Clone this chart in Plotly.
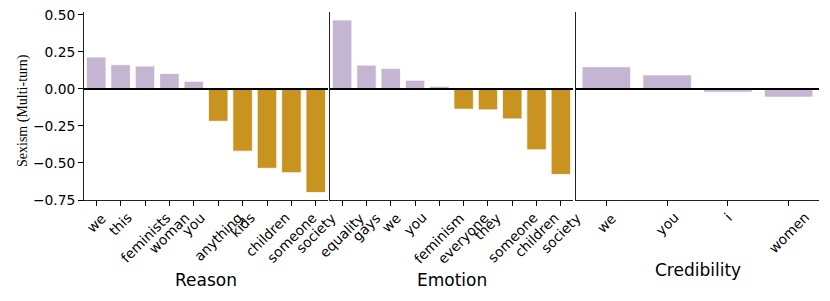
import plotly.graph_objects as go

reason_words = ["we", "this", "feminists", "woman", "you", "anything", "kids", "children", "someone", "society"]
reason_vals = [0.216, 0.164, 0.155, 0.105, 0.052, -0.218, -0.42, -0.536, -0.566, -0.70]

emotion_words = ["equality", "gays", "we", "you", "feminism", "everyone", "they", "someone", "children", "society"]
emotion_vals = [0.466, 0.161, 0.139, 0.059, 0.018, -0.136, -0.141, -0.202, -0.411, -0.577]

cred_words = ["we", "you", "i", "women"]
cred_vals = [0.150, 0.095, -0.022, -0.055]

panel_titles = ["Reason", "Emotion", "Credibility"]
y_ticks = [-0.75, -0.50, -0.25, 0.00, 0.25, 0.50]

PURPLE = "#C4B6D3"
GOLD = "#C8931F"

# page body has an 8px offset; figure placed from (8,8)
OFF = 8
PAGE_W, PAGE_H = 830, 301
L_pg, R_pg, T_pg, B_pg = 84, 819, 12, 200
FW, FH = PAGE_W - OFF, PAGE_H - OFF
ml, mr, mt, mb = L_pg - OFF, PAGE_W - R_pg, T_pg - OFF, PAGE_H - B_pg
PW, PH = R_pg - L_pg, B_pg - T_pg


def px_x(xpg):
    return (xpg - L_pg) / PW


def px_y(ypg):
    return 1 - (ypg - T_pg) / PH


fig = go.Figure()

panels = [(reason_words, reason_vals, True), (emotion_words, emotion_vals, True), (cred_words, cred_vals, False)]
for i, (words, vals, split) in enumerate(panels):
    if split:
        colors = [PURPLE if v >= 0 else GOLD for v in vals]
    else:
        colors = [PURPLE] * len(vals)
    sfx = "" if i == 0 else str(i + 1)
    fig.add_trace(go.Bar(
        x=list(range(len(words))), y=vals, width=0.8,
        marker=dict(color=colors, line=dict(color="white", width=0.8)),
        xaxis="x" + sfx, yaxis="y" + sfx, showlegend=False,
    ))
    fig.add_shape(type="line", xref=("x" + sfx) + " domain", yref="y" + sfx,
                  x0=0, x1=1, y0=0, y1=0, line=dict(color="black", width=2), layer="above")

doms = [(84, 328), (330, 573), (576, 819)]
title_pos = [(206, 280), (452, 280), (698, 270)]
TICK_FS = 13.8
font = dict(family="DejaVu Sans", size=TICK_FS, color="black")

layout = dict(
    width=FW, height=FH,
    margin=dict(l=ml, r=mr, t=mt, b=mb),
    plot_bgcolor="white", paper_bgcolor="white",
    showlegend=False,
)
annotations = []
for i, (words, vals, split) in enumerate(panels):
    sfx = "" if i == 0 else str(i + 1)
    layout["xaxis" + sfx] = dict(
        domain=[px_x(doms[i][0]), px_x(doms[i][1])], anchor="y" + sfx, automargin=False,
        range=[-0.5, len(words) - 0.5],
        tickmode="array", tickvals=list(range(len(words))), ticktext=words,
        showticklabels=False,
        ticks="outside", ticklen=5, tickwidth=1, tickcolor="black",
        showline=True, linecolor="#222", linewidth=1, showgrid=False, zeroline=False,
    )
    # rotated category labels, centred under each tick (matplotlib style)
    for j, w in enumerate(words):
        annotations.append(dict(
            text=w, xref="x" + sfx, yref="paper", x=j, y=px_y(207),
            xanchor="center", yanchor="top", textangle=-45, showarrow=False,
            font=font,
        ))
    annotations.append(dict(
        text=panel_titles[i], xref="paper", yref="paper",
        x=px_x(title_pos[i][0]), y=px_y(title_pos[i][1]),
        xanchor="center", yanchor="middle", showarrow=False,
        font=dict(family="DejaVu Sans", size=17, color="black"),
    ))
    ydict = dict(
        domain=[0, 1], anchor="x" + sfx, automargin=False,
        range=[-0.75, 0.52],
        showline=True, linecolor="#222", linewidth=1, showgrid=False,
        zeroline=False,
    )
    if i == 0:
        ydict.update(
            tickmode="array", tickvals=y_ticks, ticktext=[("−" if t < 0 else "") + f"{abs(t):.2f}" for t in y_ticks],
            ticks="outside", ticklen=5, tickwidth=1, tickcolor="black", tickfont=font,
            ticklabeloverflow="allow",
        )
    else:
        ydict.update(showticklabels=False, ticks="")
    layout["yaxis" + sfx] = ydict

annotations.append(dict(
    text="Sexism (Multi-turn)", xref="paper", yref="paper",
    x=px_x(23), y=px_y(111), textangle=-90,
    xanchor="center", yanchor="middle", showarrow=False,
    font=dict(family="Liberation Serif", size=14, color="black"),
))
layout["annotations"] = annotations

fig.update_layout(**layout)
fig.write_html("out.html")
